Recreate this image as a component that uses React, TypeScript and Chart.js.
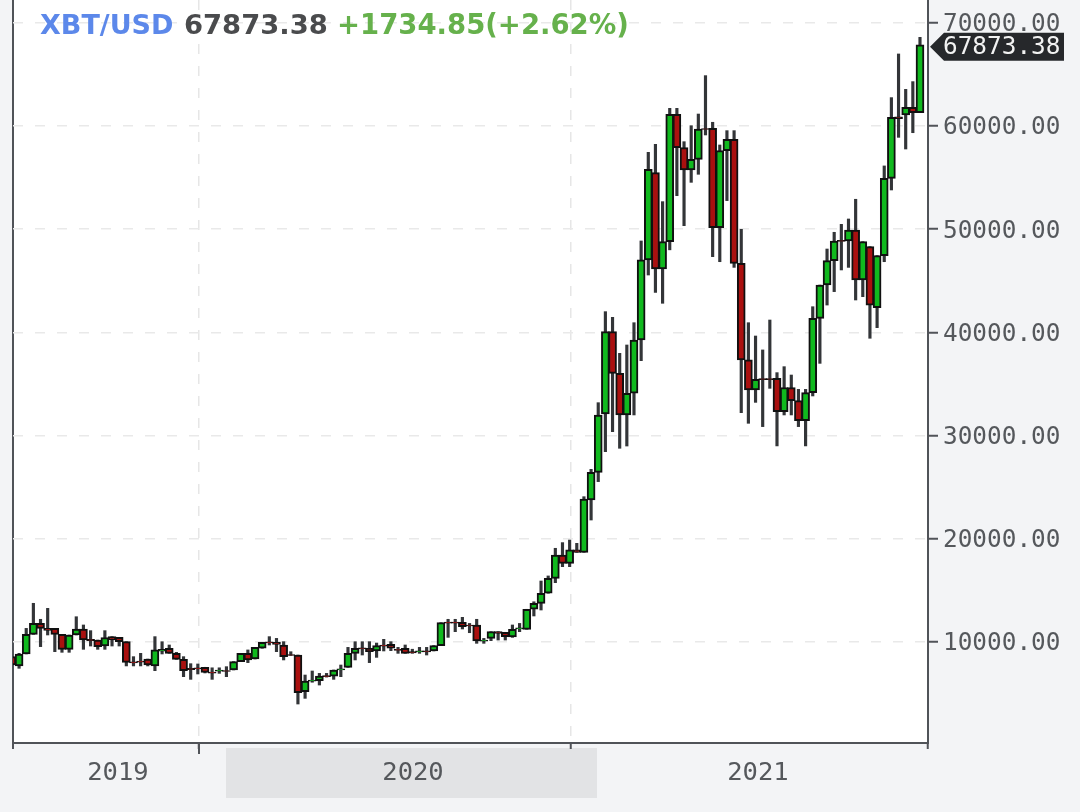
import React, { useEffect, useRef } from "react";
import { Chart, registerables } from "chart.js";

Chart.register(...registerables);

const opens = [8580,7675,8840,10740,11810,11320,11320,10740,9290,10680,11260,10250,10190,9610,10520,10450,10030,8090,8150,8350,7680,9100,9390,8900,8320,7440,7500,7550,7090,7170,7240,7290,8100,8900,8350,9390,10020,9970,9710,8790,8740,5190,6200,6250,6750,6700,7300,7540,8900,9440,9390,9130,9700,9770,9280,9390,9060,9040,9150,9130,9650,11920,11920,11900,11650,11650,10080,10350,11000,10940,10500,11270,11230,13170,13750,14720,16170,18430,17620,18920,18690,23760,26440,32090,40070,36030,32000,34100,39260,47020,55480,46140,48790,61130,57900,55740,56770,59760,59770,50150,57610,58710,46690,37330,34420,35530,35530,35550,32320,34650,33390,31450,34160,41360,44590,46950,48910,48860,49920,45080,48310,42400,47440,54930,60900,61070,61810,61290];
const closes = [7770,8840,10740,11810,11320,11130,10740,9290,10680,11260,10190,10130,9550,10420,10190,10030,8030,7970,8040,7770,9230,9290,8900,8320,7220,7330,7400,7060,6970,7280,7140,8100,8900,8260,9480,9970,9920,9770,8580,8690,5090,6220,6300,6700,6650,7290,7400,8900,9390,9340,9060,9650,9600,9390,9180,8900,8950,9150,9050,9650,11870,11820,11820,11490,11550,10100,10180,11000,10840,10520,11230,11370,13170,13750,14720,16170,18430,17620,18920,18690,23860,26440,32000,40070,36030,32000,34100,39260,47020,55800,46140,48790,61130,57900,55740,56770,59710,59660,50150,57610,58710,46690,37330,34420,35450,35430,35430,32320,34650,33390,31450,34160,41360,44590,46950,48860,48810,49920,45080,48790,42650,47440,54930,60840,60700,61810,61290,67873.38];
const highs = [8580,8900,11320,13750,12200,13260,11320,10740,10680,12450,11650,11100,10190,11100,10520,10450,10030,8580,8900,8350,10520,10030,9710,9000,8580,7900,7870,7550,7500,7500,7610,8100,8900,9230,9480,9970,10520,10350,10030,9060,8740,6800,7190,6960,6960,7290,7770,9480,10030,10030,10030,9900,10260,10030,9480,9710,9300,9480,9480,9650,11870,12200,12200,12390,11800,12200,10350,11000,11000,10940,11650,11800,13170,13900,15910,16400,19080,19630,19880,19560,24080,26730,33190,42010,41460,37970,38780,40940,48860,57450,58220,52670,61710,61710,58480,60030,61160,64880,60360,58160,59550,59550,49990,40940,39650,38300,41200,36100,36680,35870,34480,34480,42490,44590,48080,49700,50470,50990,52900,48790,48310,47440,56130,62750,66980,63550,64300,68590];
const lows = [7770,7450,8840,10740,9550,10680,9060,9000,9000,10680,9290,9610,9290,9290,9610,9610,7680,7680,7680,7680,7220,8840,8900,8320,6640,6380,6900,7000,6380,6960,6640,7290,8100,8000,8350,9390,9710,9060,8260,8690,3990,4540,6100,5830,6600,6380,6640,7540,8260,8740,8000,8510,9130,9160,8900,8900,8900,8900,8740,9130,9650,10450,11000,11260,10900,9870,9870,10130,10190,10190,10450,11000,11230,12520,13100,14720,15750,17300,17300,18690,18690,21820,25540,28440,30380,28770,28990,32000,37260,45560,43880,42820,48000,53250,50340,54540,55320,59130,47340,46850,52770,46300,32220,31190,33220,30870,34580,29000,32000,32000,30870,29000,33840,37000,42650,43950,46050,46300,43140,43460,39430,40460,46850,53800,58900,57770,59350,61290];

const weekIndex = closes.map((_, i) => i);
const yearLabels = ["2019", "2020", "2021"];
const yearLabelWeeks = [14.83, 56.09, 104.34];
const yearEdgeWeeks = [26.16, 78.19];
const priceTicks = [10000, 20000, 30000, 40000, 50000, 60000, 70000];
const symbol = "XBT/USD";
const lastPrice = "67873.38";
const change = "+1734.85(+2.62%)";

const WEEK_MIN = 0.15;
const WEEK_MAX = 128.12;
const UP = "#10b91e";
const DOWN = "#aa100f";
const AXIS = "#505358";
const PAGE = "#f3f4f6";
const FONT = '"DejaVu Sans Mono"';

const framePlugin = {
  id: "frame",
  beforeDraw(chart: any) {
    const { ctx, chartArea: a, width, height } = chart;
    ctx.save();
    ctx.fillStyle = PAGE;
    ctx.fillRect(0, 0, width, height);
    ctx.fillStyle = "#ffffff";
    ctx.fillRect(a.left, a.top, a.right - a.left, a.bottom - a.top);
    ctx.fillStyle = "#e2e3e5";
    ctx.fillRect(226, 748, 371, 50);
    ctx.restore();
  },
  afterDraw(chart: any) {
    const { ctx, scales, chartArea: a } = chart;
    ctx.save();
    const xe = scales.x.getPixelForValue(yearEdgeWeeks[0]);
    ctx.strokeStyle = AXIS;
    ctx.lineWidth = 2;
    ctx.beginPath();
    ctx.moveTo(xe, a.bottom);
    ctx.lineTo(xe, a.bottom + 11);
    ctx.stroke();

    const y = scales.y.getPixelForValue(closes[closes.length - 1]) + 2;
    ctx.fillStyle = "#26282b";
    ctx.beginPath();
    ctx.moveTo(930, y);
    ctx.lineTo(944, y - 14);
    ctx.lineTo(1064, y - 14);
    ctx.lineTo(1064, y + 14);
    ctx.lineTo(944, y + 14);
    ctx.closePath();
    ctx.fill();
    ctx.font = `24.4px ${FONT}`;
    ctx.fillStyle = "#f2f2f2";
    ctx.textAlign = "left";
    ctx.textBaseline = "middle";
    ctx.fillText(lastPrice, 943, y + 1);

    ctx.textBaseline = "alphabetic";
    ctx.font = 'bold 27px "DejaVu Sans"';
    ctx.fillStyle = "#5c88ea";
    ctx.fillText(symbol, 40, 34);
    ctx.font = 'bold 27.4px "DejaVu Sans"';
    ctx.fillStyle = "#4a4b4d";
    ctx.fillText(lastPrice, 184, 34);
    ctx.font = 'bold 27.5px "DejaVu Sans"';
    ctx.fillStyle = "#66b14c";
    ctx.fillText(change, 337, 34);
    ctx.restore();
  },
};

export default function App() {
  const ref = useRef<HTMLCanvasElement | null>(null);

  useEffect(() => {
    document.body.style.margin = "0";
    document.body.style.background = PAGE;
    const isEdge = (v: number) => yearEdgeWeeks.includes(v);
    const isFrame = (v: number) => v === WEEK_MIN || v === WEEK_MAX;
    const chart = new Chart(ref.current as HTMLCanvasElement, {
      type: "bar",
      data: {
        datasets: [
          {
            label: "Wick",
            data: weekIndex.map((i) => ({ x: i, y: [lows[i], highs[i]] })),
            backgroundColor: "#333538",
            borderWidth: 0,
            barThickness: 2.5,
            grouped: false,
            order: 2,
          },
          {
            label: "Body",
            data: weekIndex.map((i) => ({ x: i, y: [opens[i], closes[i]] })),
            backgroundColor: weekIndex.map((i) => (closes[i] >= opens[i] ? UP : DOWN)),
            borderColor: "#101010",
            borderWidth: 2,
            borderSkipped: false,
            barThickness: 8,
            grouped: false,
            order: 1,
          },
        ] as any,
      },
      options: {
        animation: false,
        responsive: false,
        devicePixelRatio: 1,
        layout: { padding: { left: 13, right: 0, top: 0, bottom: 0 } },
        plugins: { legend: { display: false }, tooltip: { enabled: false }, title: { display: false } },
        scales: {
          x: {
            type: "linear",
            offset: false,
            min: WEEK_MIN,
            max: WEEK_MAX,
            afterBuildTicks(scale: any) {
              const values = [WEEK_MIN, ...yearLabelWeeks, ...yearEdgeWeeks, WEEK_MAX].sort((a, b) => a - b);
              scale.ticks = values.map((value) => ({ value }));
            },
            afterFit(scale: any) {
              scale.height = 69;
              scale.paddingLeft = 0;
              scale.paddingRight = 0;
            },
            ticks: {
              autoSkip: false,
              maxRotation: 0,
              minRotation: 0,
              padding: 9,
              color: "#55585c",
              font: { family: FONT, size: 25.5 },
              callback(value: any) {
                const k = yearLabelWeeks.indexOf(Number(value));
                return k >= 0 ? yearLabels[k] : "";
              },
            },
            border: {
              color: AXIS,
              width: 2,
              dash: (c: any) => (c.tick && isEdge(c.tick.value) ? [10, 12] : []),
            },
            grid: {
              offset: false,
              tickLength: 6,
              color: (c: any) => {
                const v = c.tick && c.tick.value;
                if (v === WEEK_MIN) return AXIS;
                return isEdge(v) ? "#e6e6e6" : "rgba(0,0,0,0)";
              },
              lineWidth: (c: any) => (c.tick && c.tick.value === WEEK_MIN ? 2 : 1.5),
              tickColor: (c: any) => {
                const v = c.tick && c.tick.value;
                return isEdge(v) || isFrame(v) ? AXIS : "rgba(0,0,0,0)";
              },
              tickWidth: 2,
            },
          },
          y: {
            type: "linear",
            position: "right",
            min: 213,
            max: 72209,
            afterBuildTicks(scale: any) {
              scale.ticks = priceTicks.map((value) => ({ value }));
            },
            afterFit(scale: any) {
              scale.width = 152;
              scale.paddingTop = 0;
              scale.paddingBottom = 0;
            },
            ticks: {
              padding: 5,
              labelOffset: 2,
              color: "#55585c",
              font: { family: FONT, size: 24.4 },
              callback: (value: any) => Number(value).toFixed(2),
            },
            border: { color: AXIS, width: 2, dash: [10, 12] },
            grid: {
              color: "#e9e9e9",
              lineWidth: 1.5,
              tickLength: 10,
              tickColor: AXIS,
              tickWidth: 2,
            },
          },
        },
      } as any,
      plugins: [framePlugin],
    });
    return () => chart.destroy();
  }, []);

  return (
    <canvas
      ref={ref}
      width={1080}
      height={812}
      style={{ display: "block", width: 1080, height: 812, filter: "blur(0.5px)" }}
    />
  );
}
